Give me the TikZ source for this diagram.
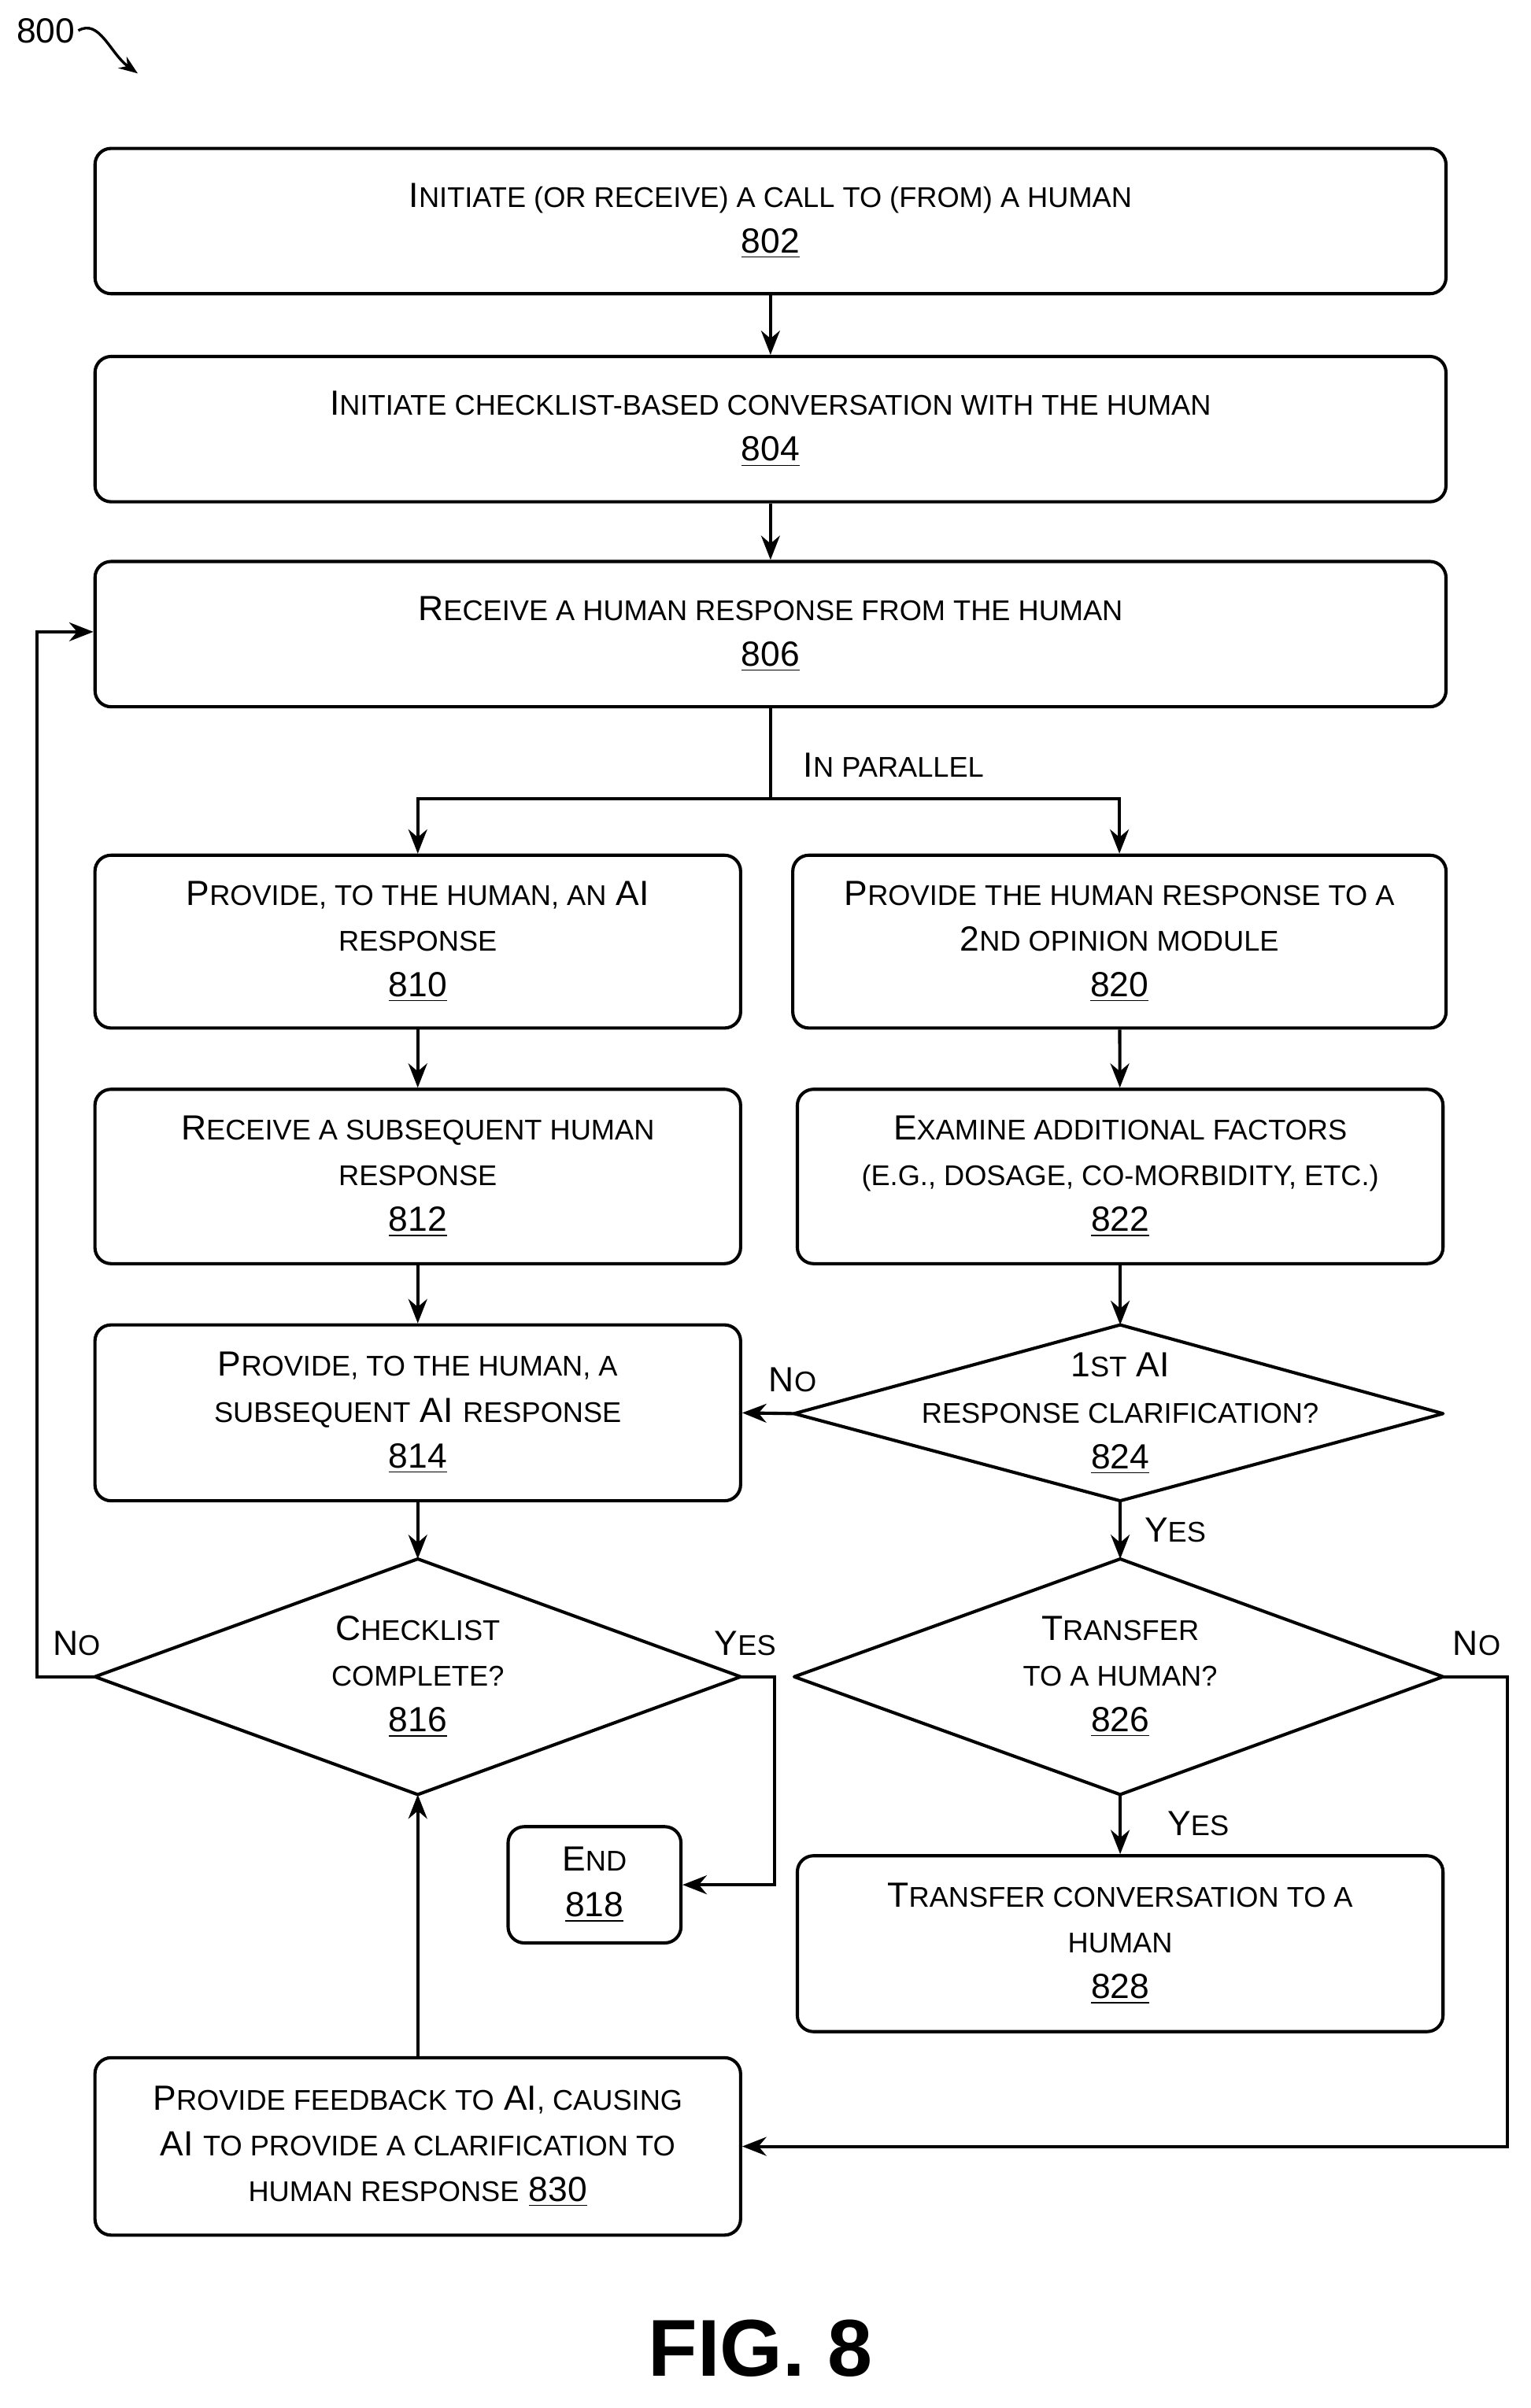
\documentclass[tikz,border=0pt]{standalone}
\usepackage{fontspec}
\setmainfont{Liberation Sans}
\usetikzlibrary{arrows.meta}
\newcommand{\s}[1]{{\fontsize{10.6pt}{17pt}\selectfont\MakeUppercase{#1}}}
\begin{document}
\begin{tikzpicture}[x=0.02cm,y=-0.02cm,
  every node/.style={font=\fontsize{13pt}{17pt}\selectfont, align=center},
  box/.style={draw, line width=1.2pt, rounded corners=6pt, inner sep=0pt},
  ln/.style={line width=1.2pt},
  ar/.style={line width=1.2pt,-{Stealth[length=9pt,width=7pt]}},
  lbl/.style={inner sep=1pt}]
\useasboundingbox (0,0) rectangle (1000,1574);
\node[box,minimum width=17.66cm,minimum height=1.9cm] (n802) at (503.5,144.5) {I\s{nitiate (or receive) a call to (from) a human}\\\underline{802}};
\node[box,minimum width=17.66cm,minimum height=1.9cm] (n804) at (503.5,280.5) {I\s{nitiate checklist-based conversation with the human}\\\underline{804}};
\node[box,minimum width=17.66cm,minimum height=1.9cm] (n806) at (503.5,414.5) {R\s{eceive a human response from the human}\\\underline{806}};
\node[box,minimum width=8.44cm,minimum height=2.26cm] (n810) at (273,615.5) {P\s{rovide, to the human, an} AI\\\s{response}\\\underline{810}};
\node[box,minimum width=8.54cm,minimum height=2.26cm] (n820) at (731.5,615.5) {P\s{rovide the human response to a}\\2\s{nd opinion module}\\\underline{820}};
\node[box,minimum width=8.44cm,minimum height=2.28cm] (n812) at (273,769) {R\s{eceive a subsequent human}\\\s{response}\\\underline{812}};
\node[box,minimum width=8.44cm,minimum height=2.28cm] (n822) at (732,769) {E\s{xamine additional factors}\\\s{(e.g., dosage, co-morbidity, etc.)}\\\underline{822}};
\node[box,minimum width=8.44cm,minimum height=2.3cm] (n814) at (273,923.5) {P\s{rovide, to the human, a}\\\s{subsequent} AI \s{response}\\\underline{814}};
\node[box,minimum width=2.26cm,minimum height=1.52cm] (n818) at (388.5,1232) {E\s{nd}\\\underline{818}};
\node[box,minimum width=8.44cm,minimum height=2.3cm] (n828) at (732,1270.5) {T\s{ransfer conversation to a}\\\s{human}\\\underline{828}};
\node[box,minimum width=8.44cm,minimum height=2.32cm] (n830) at (273,1403) {P\s{rovide feedback to} AI\s{, causing}\\AI \s{to provide a clarification to}\\\s{human response} \underline{830}};
% diamond 824
\coordinate (d824t) at (732,866); \coordinate (d824b) at (732,981);
\coordinate (d824l) at (519,924); \coordinate (d824r) at (943,924);
\draw[ln,line join=round] (d824t)--(d824r)--(d824b)--(d824l)--cycle;
\node (t824) at (732,924) {1\s{st} AI\\\s{response clarification?}\\\underline{824}};
% diamond 816
\coordinate (d816t) at (273,1019); \coordinate (d816b) at (273,1173);
\coordinate (d816l) at (62,1096); \coordinate (d816r) at (484,1096);
\draw[ln,line join=round] (d816t)--(d816r)--(d816b)--(d816l)--cycle;
\node (t816) at (273,1096) {C\s{hecklist}\\\s{complete?}\\\underline{816}};
% diamond 826
\coordinate (d826t) at (732,1019); \coordinate (d826b) at (732,1173);
\coordinate (d826l) at (519,1096); \coordinate (d826r) at (943,1096);
\draw[ln,line join=round] (d826t)--(d826r)--(d826b)--(d826l)--cycle;
\node (t826) at (732,1096) {T\s{ransfer}\\\s{to a human?}\\\underline{826}};
% connectors
\draw[ar] (n802)--(n804);
\draw[ar] (n804)--(n806);
\coordinate (split) at (503.5,522);
\draw[ln] (n806.south)--(split);
\draw[ar] (split)-|(n810.north);
\draw[ar] (split)-|(n820.north);
\node[lbl,anchor=west] (par) at (523,500) {I\s{n parallel}};
\draw[ar] (n810)--(n812);
\draw[ar] (n812)--(n814);
\draw[ar] (n820)--(n822);
\draw[ar] (n822.south)--(d824t);
\draw[ar] (d824l)--(n814.east);
\node[lbl] (no1) at (518,902) {N\s{o}};
\draw[ar] (d824b)--(d826t);
\node[lbl] (yes1) at (768,1000) {Y\s{es}};
\draw[ar] (n814.south)--(d816t);
\coordinate (lft) at (24,1096);
\draw[ar] (d816l)--(lft)|-(n806.west|-0,413);
\node[lbl] (no2) at (50,1074) {N\s{o}};
\coordinate (rt1) at (506,1096);
\draw[ar] (d816r)--(rt1)|-(n818.east);
\node[lbl] (yes2) at (487,1074) {Y\s{es}};
\draw[ar] (d826b)--(n828.north);
\node[lbl] (yes3) at (783,1192) {Y\s{es}};
\coordinate (rt2) at (985,1096);
\draw[ar] (d826r)--(rt2)|-(n830.east);
\node[lbl] (no3) at (965,1074) {N\s{o}};
\draw[ar] (n830.north)--(d816b);
% label
\node[lbl] (l800) at (30,20) {800};
\coordinate (a800) at (90,48);
\draw[line width=1pt,-{Stealth[length=7pt]}] (l800.east) .. controls (65,12) and (72,35) .. (a800);
\node[font=\bfseries\fontsize{30pt}{34pt}\selectfont] (fig) at (497,1535) {FIG. 8};
\end{tikzpicture}
\end{document}
